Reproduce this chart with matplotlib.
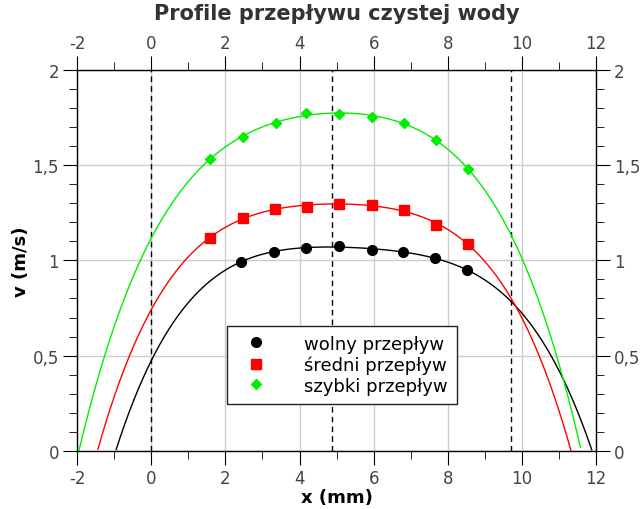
import numpy as np
import matplotlib.pyplot as plt
from matplotlib.ticker import MultipleLocator, FuncFormatter

# measured points
x_wolny = [2.42, 3.31, 4.17, 5.06, 5.95, 6.79, 7.65, 8.51]
v_wolny = [0.993, 1.045, 1.066, 1.076, 1.055, 1.045, 1.013, 0.950]
x_sredni = [1.58, 2.47, 3.34, 4.20, 5.06, 5.95, 6.81, 7.68, 8.54]
v_sredni = [1.118, 1.223, 1.27, 1.281, 1.297, 1.291, 1.265, 1.186, 1.088]
x_szybki = [1.58, 2.47, 3.36, 4.17, 5.06, 5.95, 6.81, 7.68, 8.54]
v_szybki = [1.533, 1.648, 1.722, 1.774, 1.769, 1.753, 1.722, 1.633, 1.480]

labels = ["wolny przepływ", "średni przepływ", "szybki przepływ"]
walls = [0, 4.87, 9.7]

fig, ax = plt.subplots(figsize=(6.43, 5.10), dpi=100)
fig.subplots_adjust(left=0.12, right=0.927, bottom=0.114, top=0.861)

series = [
    (x_wolny, v_wolny, "black", "o", 7),
    (x_sredni, v_sredni, "red", "s", 7.5),
    (x_szybki, v_szybki, "#00ee00", "D", 5),
]
for (xs, vs, col, mk, ms), lab in zip(series, labels):
    coef = np.polyfit(xs, vs, 4)
    xx = np.linspace(-2, 12, 600)
    yy = np.polyval(coef, xx)
    mask = yy >= 0
    ax.plot(xx[mask], yy[mask], color=col, lw=1, zorder=3)
    ax.plot(xs, vs, mk, color=col, ms=ms, mec=col, label=lab, zorder=4)

for w in walls:
    ax.axvline(w, color="black", ls="--", lw=1, dashes=(4, 3), zorder=2)

ax.set_xlim(-2, 12)
ax.set_ylim(0, 2)
ax.xaxis.set_major_locator(MultipleLocator(2))
ax.xaxis.set_minor_locator(MultipleLocator(1))
ax.yaxis.set_major_locator(MultipleLocator(0.5))
ax.yaxis.set_minor_locator(MultipleLocator(0.1))
fmt = FuncFormatter(lambda v, p: f"{v:g}".replace(".", ","))
ax.xaxis.set_major_formatter(fmt)
ax.yaxis.set_major_formatter(fmt)
ax.grid(True, which="major", color="#cccccc", lw=1, zorder=0)

ax.tick_params(which="both", direction="out", labelsize=12, labelcolor="#444444",
               top=True, right=True, labeltop=True, labelright=True)
ax.tick_params(which="major", length=10, pad=3)
ax.tick_params(which="minor", length=6)
for s in ax.spines.values():
    s.set_linewidth(1.0)

ax.set_xlabel("x (mm)", fontsize=13, fontweight="bold", labelpad=1)
ax.set_ylabel("v (m/s)", fontsize=13, fontweight="bold", labelpad=2)
ax.set_title("Profile przepływu czystej wody", fontsize=15, fontweight="bold",
             color="#333333", pad=37)

leg = ax.legend(loc="lower center", bbox_to_anchor=(0.51, 0.1), fontsize=13,
                fancybox=False, edgecolor="#222222", framealpha=1,
                handletextpad=1.6, borderpad=0.5, labelspacing=0.15,
                handlelength=2.2)
leg.get_frame().set_linewidth(1)

fig.savefig("out.png", dpi=100)
